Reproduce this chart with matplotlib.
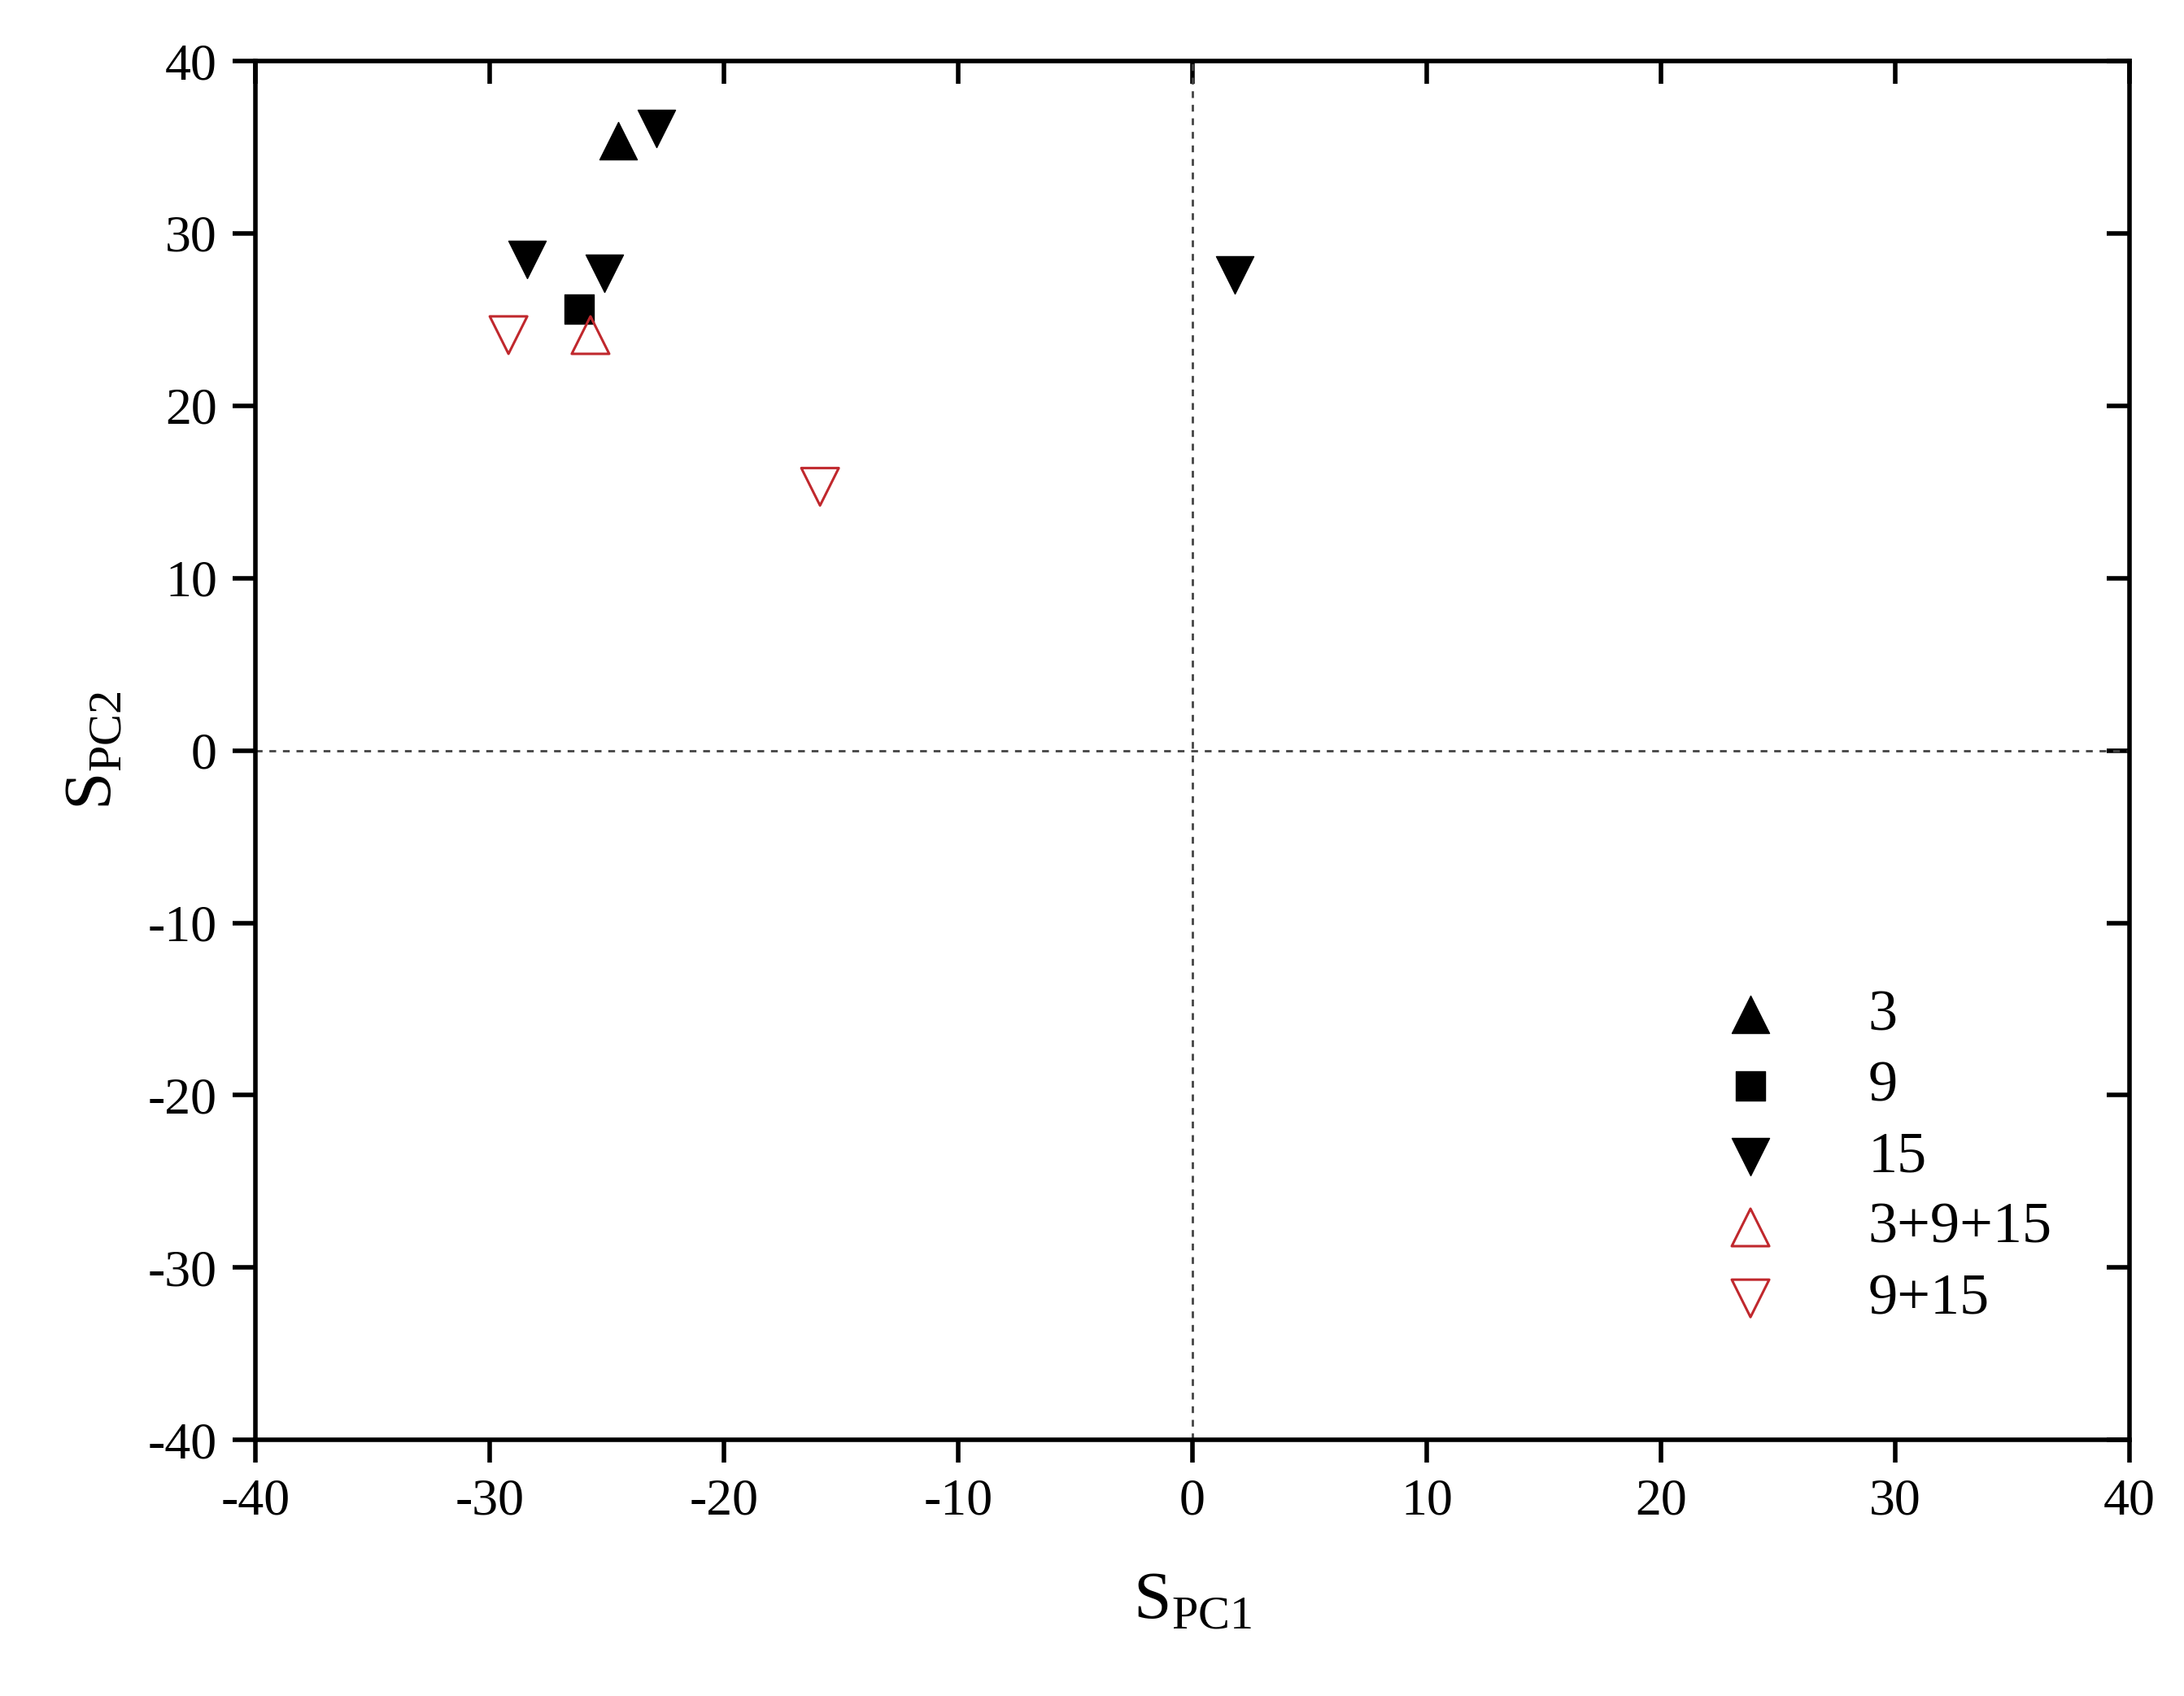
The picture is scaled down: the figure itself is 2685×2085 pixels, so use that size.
import matplotlib.pyplot as plt

plt.rcParams['font.family'] = ['Liberation Serif', 'DejaVu Serif']
plt.rcParams['axes.unicode_minus'] = False

# ── data ───────────────────────────────────────────────────────
s3_x, s3_y = [-24.5], [35.4]
s9_x, s9_y = [-26.2], [25.6]
s15_x = [-22.9, -28.4, -25.1, 1.8]
s15_y = [36.1, 28.5, 27.7, 27.6]
mix3_x, mix3_y = [-25.7], [24.1]
mix2_x, mix2_y = [-29.2, -15.9], [24.1, 15.3]

ticks = list(range(-40, 41, 10))

fig = plt.figure(figsize=(26.85, 20.85), dpi=100)
ax = fig.add_axes([0.117, 0.151, 0.858, 0.813])

ms = 1100
red = "#c0282d"
ax.scatter(s3_x, s3_y, marker="^", s=ms, color="black", label="3", zorder=3)
ax.scatter(s9_x, s9_y, marker="s", s=ms * 0.6, color="black", label="9", zorder=3)
ax.scatter(s15_x, s15_y, marker="v", s=ms, color="black", label="15", zorder=3)
ax.scatter(mix3_x, mix3_y, marker="^", s=ms, facecolors="none", edgecolors=red,
           linewidths=2.2, label="3+9+15", zorder=4)
ax.scatter(mix2_x, mix2_y, marker="v", s=ms, facecolors="none", edgecolors=red,
           linewidths=2.2, label="9+15", zorder=4)

ax.axhline(0, color="#444444", ls=(0, (3, 3)), lw=2, zorder=1)
ax.axvline(0, color="#444444", ls=(0, (3, 3)), lw=2, zorder=1)

ax.set_xlim(-40, 40)
ax.set_ylim(-40, 40)
ax.set_xticks(ticks)
ax.set_yticks(ticks)
for sp in ax.spines.values():
    sp.set_linewidth(4)
ax.tick_params(axis="both", labelsize=46, width=4, length=20,
               direction="out", pad=14)

# inward ticks on top and right
top = ax.secondary_xaxis("top")
top.set_xticks(ticks)
top.tick_params(direction="in", width=4, length=20, labeltop=False)
right = ax.secondary_yaxis("right")
right.set_yticks(ticks)
right.tick_params(direction="in", width=4, length=20, labelright=False)

ax.set_xlabel(r"S$_{\mathregular{PC1}}$", fontsize=60, labelpad=40)
ax.set_ylabel(r"S$_{\mathregular{PC2}}$", fontsize=60, labelpad=20)

ax.legend(loc="lower right", bbox_to_anchor=(0.99, 0.04), frameon=False,
          fontsize=52, handletextpad=1.0, labelspacing=0.3, borderpad=0.5)

fig.savefig("out.png", dpi=100)
